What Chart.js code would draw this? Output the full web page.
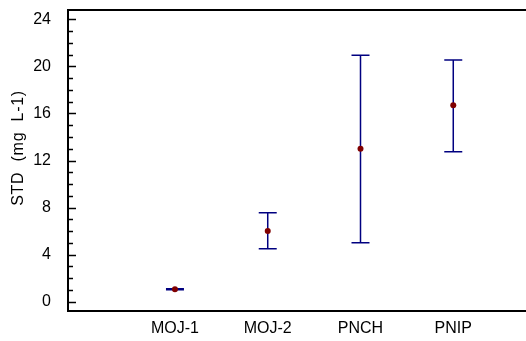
<!DOCTYPE html>
<html>
<head>
<meta charset="utf-8">
<script src="https://cdn.jsdelivr.net/npm/chart.js@4"></script>
<style>
  html, body { margin: 0; padding: 0; background: #fff; }
  #wrap { width: 526px; height: 341px; }
</style>
</head>
<body>
<div id="wrap"><canvas id="stdChart"></canvas></div>
<script>
// Sitios y valores de STD (media con su rango)
const sites = ['MOJ-1', 'MOJ-2', 'PNCH', 'PNIP'];
const means = [1.05, 6.0, 13.0, 16.7];
const lower = [1.0, 4.5, 5.0, 12.75];
const upper = [1.1, 7.55, 20.95, 20.55];
const yTicks = [0, 4, 8, 12, 16, 20, 24];
const yTitle = 'STD  (mg  L-1)';

const FONT = "'Liberation Sans', Arial, sans-serif";

// barras de error + marcas menores del eje y + linea superior del marco
const extras = {
    id: 'extras',
    beforeDatasetsDraw(chart) {
        const { ctx, scales: { x, y } } = chart;
        ctx.save();
        ctx.strokeStyle = '#000080';
        ctx.lineWidth = 1.5;
        sites.forEach((s, i) => {
            const px = x.getPixelForValue(i + 1);
            const yl = y.getPixelForValue(lower[i]);
            const yh = y.getPixelForValue(upper[i]);
            ctx.beginPath();
            ctx.moveTo(px, yl); ctx.lineTo(px, yh);
            ctx.moveTo(px - 9, yl); ctx.lineTo(px + 9, yl);
            ctx.moveTo(px - 9, yh); ctx.lineTo(px + 9, yh);
            ctx.stroke();
        });
        ctx.restore();
    },
    afterDraw(chart) {
        const { ctx, chartArea: a, scales: { y } } = chart;
        ctx.save();
        ctx.strokeStyle = '#000';
        ctx.lineWidth = 1.5;
        for (let v = 0; v <= 24; v++) {
            const py = Math.round(y.getPixelForValue(v)) + 0.5;
            const len = v % 4 === 0 ? 8 : 5;
            ctx.beginPath();
            ctx.moveTo(a.left, py); ctx.lineTo(a.left + len, py);
            ctx.stroke();
        }
        ctx.lineWidth = 2;
        ctx.beginPath();
        ctx.moveTo(a.left - 1, a.top); ctx.lineTo(a.right, a.top);
        ctx.stroke();

        // titulo del eje y
        ctx.translate(19, 148);
        ctx.rotate(-Math.PI / 2);
        ctx.fillStyle = '#000';
        ctx.font = '16px ' + FONT;
        ctx.letterSpacing = '0.7px';
        ctx.textAlign = 'center';
        ctx.textBaseline = 'middle';
        ctx.fillText(yTitle, 0, 0);
        ctx.restore();
    }
};

new Chart(document.getElementById('stdChart'), {
    type: 'scatter',
    data: {
        datasets: [{
            data: sites.map((s, i) => ({ x: i + 1, y: means[i] })),
            pointStyle: 'circle',
            pointRadius: 3,
            pointBackgroundColor: '#800000',
            pointBorderColor: '#800000',
            pointBorderWidth: 0
        }]
    },
    options: {
        responsive: true,
        maintainAspectRatio: false,
        animation: false,
        layout: {
            autoPadding: false,
            padding: { top: 10, right: 0, left: 0, bottom: 0 }
        },
        plugins: {
            legend: { display: false },
            tooltip: { enabled: false }
        },
        scales: {
            x: {
                type: 'linear',
                min: -0.153,
                max: 4.784,
                afterBuildTicks: scale => {
                    scale.ticks = sites.map((s, i) => ({ value: i + 1 }));
                },
                afterFit: scale => {
                    scale.height = 30;
                    scale.paddingLeft = 0;
                    scale.paddingRight = 0;
                },
                grid: { display: false },
                border: { display: true, color: '#000', width: 2 },
                ticks: {
                    padding: 0,
                    color: '#000',
                    font: { family: FONT, size: 16 },
                    autoSkip: false,
                    maxRotation: 0,
                    callback: v => sites[v - 1]
                }
            },
            y: {
                min: -0.8,
                max: 24.8,
                afterBuildTicks: scale => {
                    scale.ticks = yTicks.map(v => ({ value: v }));
                },
                afterFit: scale => {
                    scale.width = 68;
                    scale.paddingTop = 0;
                    scale.paddingBottom = 0;
                },
                grid: { display: false },
                border: { display: true, color: '#000', width: 2 },
                ticks: {
                    padding: 9,
                    color: '#000',
                    font: { family: FONT, size: 16 }
                }
            }
        }
    },
    plugins: [extras]
});
</script>
</body>
</html>
